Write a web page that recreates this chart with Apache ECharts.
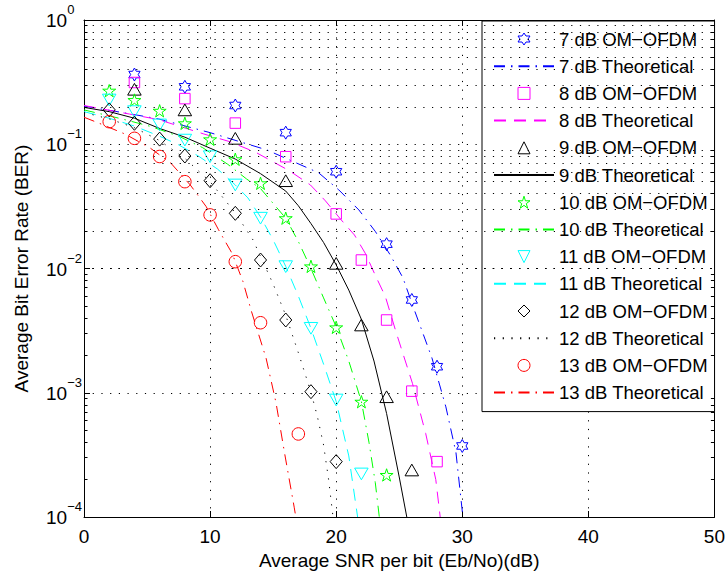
<!DOCTYPE html>
<html><head><meta charset="utf-8">
<script src="https://cdn.jsdelivr.net/npm/echarts@6/dist/echarts.min.js"></script>
<style>html,body{margin:0;padding:0;background:#fff}#c{width:728px;height:577px}</style>
</head><body><div id="c"></div>
<script>
// ---- axis ticks ----
const xTicks = [0, 10, 20, 30, 40, 50];
const yDecades = [1e-4, 1e-3, 1e-2, 1e-1, 1];
const yMinor = [2e-4,3e-4,4e-4,5e-4,6e-4,7e-4,8e-4,9e-4,
                2e-3,3e-3,4e-3,5e-3,6e-3,7e-3,8e-3,9e-3,
                2e-2,3e-2,4e-2,5e-2,6e-2,7e-2,8e-2,9e-2,
                0.2,0.3,0.4,0.5,0.6,0.7,0.8,0.9];

// ---- simulated OM-OFDM points ----
const om7x  = [4, 8, 12, 16, 20, 24, 26, 28, 30];
const om7y  = [0.364, 0.290, 0.205, 0.124, 0.0601, 0.0157, 0.00558, 0.00162, 0.000373];
const om8x  = [4, 8, 12, 16, 20, 22, 24, 26, 28];
const om8y  = [0.314, 0.233, 0.148, 0.0794, 0.0275, 0.0117, 0.00385, 0.00103, 0.000279];
const om9x  = [4, 8, 12, 16, 20, 22, 24, 26];
const om9y  = [0.277, 0.189, 0.1116, 0.0509, 0.0110, 0.00351, 0.000929, 0.000239];
const om10x = [2, 4, 6, 8, 10, 12, 14, 16, 18, 20, 22, 24];
const om10y = [0.270, 0.227, 0.186, 0.1475, 0.1096, 0.0757, 0.0485, 0.0254, 0.0104, 0.00336, 0.000847, 0.000218];
const om11x = [2, 4, 6, 8, 10, 12, 14, 16, 18, 20, 22];
const om11y = [0.227, 0.183, 0.143, 0.108, 0.0794, 0.047, 0.0254, 0.01035, 0.0033, 0.000874, 0.000222];
const om12x = [2, 4, 6, 8, 10, 12, 14, 16, 18, 20];
const om12y = [0.189, 0.1475, 0.110, 0.0804, 0.0509, 0.0278, 0.0117, 0.00385, 0.00102, 0.000279];
const om13x = [2, 4, 6, 8, 10, 12, 14, 17];
const om13y = [0.152, 0.1116, 0.0797, 0.050, 0.027, 0.01135, 0.00366, 0.000466];

// ---- theoretical curves ----
const th7x  = [0, 3.6, 5.9, 10, 14.5, 18.6, 20.2, 21.8, 23.1, 24.3, 25.3, 26.05, 27.6, 28.7, 29.5, 30.05];
const th7y  = [0.203, 0.176, 0.16, 0.124, 0.090, 0.059, 0.043, 0.0296, 0.0199, 0.0128, 0.0084, 0.0051, 0.0019, 0.00077, 0.00033, 0.0001];
const th8x  = [0, 3.6, 5.9, 9.5, 11.55, 13.65, 16.3, 17.96, 19.15, 20.4, 21.45, 22.3, 23.2, 23.9, 24.74, 26.05, 27.1, 27.9, 28.25];
const th8y  = [0.205, 0.175, 0.158, 0.121, 0.105, 0.0858, 0.0611, 0.047, 0.035, 0.0246, 0.0186, 0.0133, 0.0084, 0.00595, 0.0031, 0.00119, 0.00047, 0.0002, 0.0001];
const th9x  = [0, 2, 4, 6, 8, 10, 12, 14, 16, 17, 18, 19, 20, 21, 22, 23, 24, 25, 25.6];
const th9y  = [0.198, 0.183, 0.162, 0.134, 0.114, 0.093, 0.076, 0.058, 0.042, 0.032, 0.023, 0.0162, 0.0107, 0.0067, 0.0039, 0.0018, 0.00068, 0.00021, 0.0001];
const th10x = [0, 3, 5.3, 7.6, 9.4, 11.4, 12.9, 14, 16, 17, 18, 19, 20, 21, 22, 22.6, 23.1, 23.42];
const th10y = [0.189, 0.16, 0.139, 0.115, 0.094, 0.069, 0.0525, 0.044, 0.0254, 0.0165, 0.0100, 0.0058, 0.0034, 0.0018, 0.00085, 0.0004, 0.00019, 0.0001];
const th11x = [0, 2, 4, 6, 7.5, 9.1, 10.6, 12, 13, 14, 15, 16, 17, 18, 19, 20, 21, 21.7];
const th11y = [0.183, 0.162, 0.14, 0.116, 0.099, 0.080, 0.063, 0.047, 0.037, 0.026, 0.017, 0.0104, 0.006, 0.0033, 0.0017, 0.00085, 0.00031, 0.0001];
const th12x = [0, 2, 4, 6, 8, 10, 12, 13.4, 14, 15, 16, 17, 18, 18.5, 19, 19.4, 19.75];
const th12y = [0.18, 0.16, 0.136, 0.107, 0.077, 0.05, 0.028, 0.017, 0.0125, 0.0075, 0.0042, 0.0021, 0.00101, 0.00065, 0.00038, 0.0002, 0.0001];
const th13x = [0, 1.17, 3.24, 5.2, 6.9, 8.43, 9.69, 10.67, 11.75, 12.6, 13.27, 14.44, 15.23, 15.9, 16.67, 16.8];
const th13y = [0.165, 0.148, 0.121, 0.094, 0.0703, 0.047, 0.0315, 0.0205, 0.0132, 0.0079, 0.00455, 0.0019, 0.00083, 0.00033, 0.00012, 0.0001];

const FONT = '"Liberation Sans", Arial, Helvetica, sans-serif';
const M = '\u2212';
const SYM = {
  hexagram: 'path://M0,-100L28.87,-50L86.6,-50L57.74,0L86.6,50L28.87,50L0,100L-28.87,50L-86.6,50L-57.74,0L-86.6,-50L-28.87,-50Z',
  pentagram: 'path://M0,-100L22.45,-30.9L95.1,-30.9L36.33,11.8L58.78,80.9L0,38.2L-58.78,80.9L-36.33,11.8L-95.1,-30.9L-22.45,-30.9Z',
  square: 'path://M0,0L100,0L100,100L0,100Z',
  triUp: 'path://M50,0L100,86.6L0,86.6Z',
  triDown: 'path://M0,0L100,0L50,86.6Z',
  diamond: 'path://M50,0L100,58L50,116L0,58Z',
  circle: 'circle'
};
const DASHDOT = [11, 6, 1.5, 6];
const DASHED = [12, 8];
const DOTTED = [1.2, 7.5];

function pairs(xs, ys) { return xs.map((x, i) => [x, ys[i]]); }
function om(name, xs, ys, sym, size, color) {
  return { name, type: 'line', data: pairs(xs, ys), symbol: sym, symbolSize: size, symbolKeepAspect: true,
    showSymbol: true, lineStyle: { width: 0, color: 'rgba(0,0,0,0)' },
    itemStyle: { color: 'none', borderColor: color, borderWidth: 1 },
    emphasis: { disabled: true }, animation: false, z: 4, silent: true };
}
function th(name, xs, ys, type, color) {
  return { name, type: 'line', data: pairs(xs, ys), symbol: 'circle', showSymbol: false,
    lineStyle: { width: 1, color, type },
    itemStyle: { color: 'rgba(0,0,0,0)', borderColor: 'rgba(0,0,0,0)', borderWidth: 0 },
    emphasis: { disabled: true }, animation: false, z: 3, silent: true };
}

const series = [
  om('7 dB OM' + M + 'OFDM', om7x, om7y, SYM.hexagram, 13, '#0000ff'),
  th('7 dB Theoretical', th7x, th7y, DASHDOT, '#0000ff'),
  om('8 dB OM' + M + 'OFDM', om8x, om8y, SYM.square, 10.5, '#ff00ff'),
  th('8 dB Theoretical', th8x, th8y, DASHED, '#ff00ff'),
  om('9 dB OM' + M + 'OFDM', om9x, om9y, SYM.triUp, 13.5, '#000000'),
  th('9 dB Theoretical', th9x, th9y, 'solid', '#000000'),
  om('10 dB OM' + M + 'OFDM', om10x, om10y, SYM.pentagram, 13, '#00ff00'),
  th('10 dB Theoretical', th10x, th10y, DASHDOT, '#00ff00'),
  om('11 dB OM' + M + 'OFDM', om11x, om11y, SYM.triDown, 13.5, '#00ffff'),
  th('11 dB Theoretical', th11x, th11y, DASHED, '#00ffff'),
  om('12 dB OM' + M + 'OFDM', om12x, om12y, SYM.diamond, 14, '#000000'),
  th('12 dB Theoretical', th12x, th12y, DOTTED, '#000000'),
  om('13 dB OM' + M + 'OFDM', om13x, om13y, SYM.circle, 12.5, '#ff0000'),
  th('13 dB Theoretical', th13x, th13y, DASHDOT, '#ff0000')
];

// helper series: minor grid lines and minor ticks of the log axis
const minorTickData = [];
yMinor.forEach(v => {
  minorTickData.push([{ coord: [xTicks[0], v] }, { coord: [xTicks[0] + 0.28, v] }]);
  minorTickData.push([{ coord: [xTicks[xTicks.length - 1] - 0.28, v] }, { coord: [xTicks[xTicks.length - 1], v] }]);
});
series.push({
  type: 'line', data: [], silent: true, animation: false, z: 1,
  markLine: { silent: true, animation: false, symbol: 'none', label: { show: false },
    lineStyle: { type: DOTTED, color: '#000', width: 1 },
    data: yMinor.map(v => ({ yAxis: v })) }
});
series.push({
  type: 'line', data: [], silent: true, animation: false, z: 5,
  markLine: { silent: true, animation: false, symbol: 'none', label: { show: false },
    lineStyle: { type: 'solid', color: '#000', width: 1 },
    data: minorTickData }
});

const expLabel = v => {
  const e = Math.round(Math.log10(v));
  return '{b|10}{s|' + (e < 0 ? M + (-e) : String(e)) + '}';
};

const axisLineStyle = { show: true, onZero: false, lineStyle: { color: '#000', width: 1 } };
const option = {
  backgroundColor: '#fff',
  animation: false,
  grid: { left: 84, right: 12, top: 20, bottom: 60, show: false },
  legend: {
    orient: 'vertical', left: 482, top: 21,
    padding: [8, 7, 9, 11], itemGap: 7.2, itemWidth: 60, itemHeight: 15,
    backgroundColor: '#fff', borderColor: '#000', borderWidth: 1, borderRadius: 0,
    textStyle: { fontSize: 18.5, fontFamily: FONT, color: '#000', lineHeight: 20 },
    itemStyle: { borderWidth: 1 },
    selectedMode: false,
    data: series.filter(s => s.name).map(s => s.name)
  },
  xAxis: [{
    type: 'value', min: 0, max: 50, interval: 10, position: 'bottom',
    axisLine: axisLineStyle,
    axisTick: { inside: true, length: 6, lineStyle: { color: '#000' } },
    axisLabel: { color: '#000', fontSize: 19, fontFamily: FONT, margin: 10 },
    splitLine: { show: true, lineStyle: { type: DOTTED, color: '#000', width: 1 } },
    name: 'Average SNR per bit (Eb/No)(dB)', nameLocation: 'middle', nameGap: 34,
    nameTextStyle: { color: '#000', fontSize: 19, fontFamily: FONT }
  }, {
    type: 'value', min: 0, max: 50, interval: 10, position: 'top',
    axisLine: axisLineStyle,
    axisTick: { inside: true, length: 6, lineStyle: { color: '#000' } },
    axisLabel: { show: false }, splitLine: { show: false }
  }],
  yAxis: [{
    type: 'log', logBase: 10, min: yDecades[0], max: yDecades[yDecades.length - 1], splitNumber: 4,
    axisLine: axisLineStyle,
    axisTick: { inside: true, length: 6, lineStyle: { color: '#000' } },
    axisLabel: {
      formatter: expLabel, align: 'left', margin: 38,
      rich: {
        b: { fontSize: 19, fontFamily: FONT, color: '#000', lineHeight: 20, verticalAlign: 'bottom' },
        s: { fontSize: 13, fontFamily: FONT, color: '#000', lineHeight: 13, verticalAlign: 'bottom', padding: [0, 0, 14, 0] }
      }
    },
    splitLine: { show: true, lineStyle: { type: DOTTED, color: '#000', width: 1 } },
    name: 'Average Bit Error Rate (BER)', nameLocation: 'middle', nameGap: 53,
    nameTextStyle: { color: '#000', fontSize: 19, fontFamily: FONT }
  }, {
    type: 'log', logBase: 10, min: yDecades[0], max: yDecades[yDecades.length - 1], splitNumber: 4, position: 'right',
    axisLine: axisLineStyle,
    axisTick: { inside: true, length: 6, lineStyle: { color: '#000' } },
    axisLabel: { show: false }, splitLine: { show: false }
  }],
  series
};
const chart = echarts.init(document.getElementById('c'), null, { renderer: 'svg' });
chart.setOption(option);
</script>
</body></html>
